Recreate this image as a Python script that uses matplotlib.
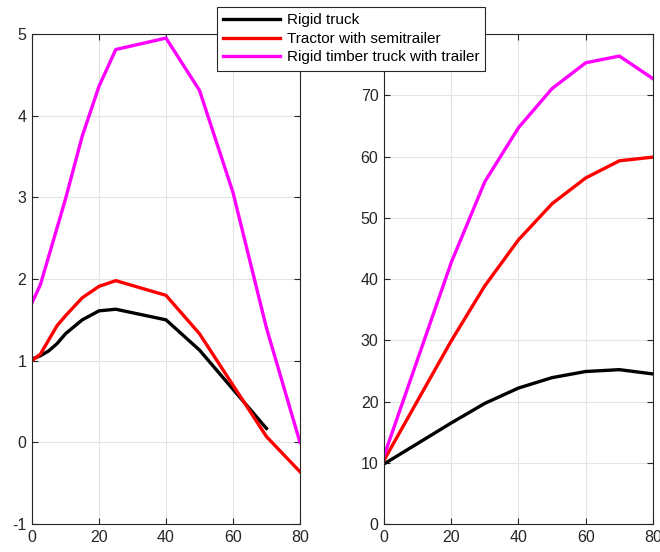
import matplotlib.pyplot as plt

plt.rcParams["font.family"] = ["Liberation Sans", "DejaVu Sans"]
plt.rcParams["axes.unicode_minus"] = False

names = ["Rigid truck", "Tractor with semitrailer", "Rigid timber truck with trailer"]
colors = ["black", "red", "magenta"]

# left panel
x_rigid_l = [0, 2.5, 5, 7.5, 10, 15, 20, 25, 40, 50, 60, 70]
y_rigid_l = [1.02, 1.06, 1.12, 1.21, 1.33, 1.50, 1.61, 1.63, 1.50, 1.13, 0.65, 0.17]
x_tractor_l = [0, 2.5, 7.5, 10, 15, 20, 25, 40, 50, 60, 70, 80]
y_tractor_l = [1.00, 1.08, 1.43, 1.55, 1.77, 1.91, 1.98, 1.80, 1.33, 0.70, 0.07, -0.36]
x_timber_l = [0, 2.5, 10, 15, 20, 25, 40, 50, 60, 70, 80]
y_timber_l = [1.71, 1.93, 2.98, 3.75, 4.36, 4.81, 4.95, 4.31, 3.06, 1.40, 0.0]

# right panel
x_r = [0, 20, 30, 40, 50, 60, 70, 80]
y_rigid_r = [9.8, 16.5, 19.7, 22.2, 23.9, 24.9, 25.2, 24.5]
y_tractor_r = [10.4, 29.9, 38.9, 46.4, 52.3, 56.5, 59.3, 59.9]
y_timber_r = [11.1, 42.7, 55.9, 64.7, 71.1, 75.3, 76.4, 72.7]

fig = plt.figure(figsize=(6.6, 5.52), dpi=100)
ax1 = fig.add_axes([0.0485, 0.0507, 0.406, 0.8877])
ax2 = fig.add_axes([0.5818, 0.0507, 0.4076, 0.8877])

lw = 2.4
l1, = ax1.plot(x_rigid_l, y_rigid_l, color=colors[0], lw=lw)
l2, = ax1.plot(x_tractor_l, y_tractor_l, color=colors[1], lw=lw)
l3, = ax1.plot(x_timber_l, y_timber_l, color=colors[2], lw=lw)

ax2.plot(x_r, y_rigid_r, color=colors[0], lw=lw)
ax2.plot(x_r, y_tractor_r, color=colors[1], lw=lw)
ax2.plot(x_r, y_timber_r, color=colors[2], lw=lw)

ax1.set_xlim(0, 80)
ax1.set_ylim(-1, 5)
ax1.set_xticks(range(0, 81, 20))
ax1.set_yticks(range(-1, 6))
ax2.set_xlim(0, 80)
ax2.set_ylim(0, 80)
ax2.set_xticks(range(0, 81, 20))
ax2.set_yticks(range(0, 81, 10))

for ax in (ax1, ax2):
    ax.grid(True, color="#e3e3e3", lw=0.8)
    ax.set_axisbelow(True)
    for s in ax.spines.values():
        s.set_color("#262626")
        s.set_linewidth(0.8)
    ax.tick_params(direction="in", top=True, right=True, length=4, width=0.8,
                   color="#262626", labelcolor="#262626", labelsize=11.5, pad=4)

leg = fig.legend([l1, l2, l3], names, loc="upper left",
                 bbox_to_anchor=(0.329, 0.987), fontsize=11,
                 fancybox=False, framealpha=1, edgecolor="#262626",
                 handlelength=3.7, handletextpad=0.45, borderpad=0.4,
                 labelspacing=0.3, borderaxespad=0)
leg.get_frame().set_linewidth(0.8)
leg.set_zorder(10)

fig.savefig("out.png", dpi=100)
